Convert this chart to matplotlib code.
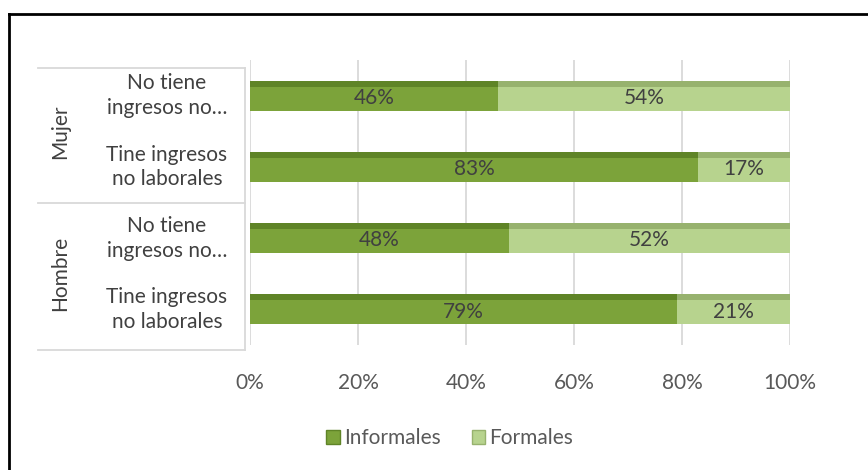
import matplotlib.pyplot as plt
import matplotlib.transforms as mtransforms
from matplotlib.patches import Patch
from matplotlib.lines import Line2D

plt.rcParams['font.family'] = ['Lato', 'DejaVu Sans']

# --- Data (bottom to top) ---
categories = ['Tine ingresos\nno laborales', 'No tiene\ningresos no…',
              'Tine ingresos\nno laborales', 'No tiene\ningresos no…']
groups = ['Hombre', 'Mujer']
informales = [0.79, 0.48, 0.83, 0.46]
formales = [0.21, 0.52, 0.17, 0.54]
x_ticks = [0, 0.2, 0.4, 0.6, 0.8, 1.0]
x_tick_labels = ['0%', '20%', '40%', '60%', '80%', '100%']
series_names = ['Informales', 'Formales']

dark = '#7CA33A'
light = '#B7D38E'
dark_top = '#5F8427'
light_top = '#97B26E'
text_col = '#404040'
fs = 15

fig = plt.figure(figsize=(8.68, 4.70), dpi=100)
ax = fig.add_axes([0.288, 0.266, 0.622, 0.606])

ypos = list(range(len(categories)))
bar_h = 0.42

ax.barh(ypos, informales, height=bar_h, color=dark, edgecolor='none', zorder=3)
ax.barh(ypos, formales, left=informales, height=bar_h, color=light,
        edgecolor='none', zorder=3)
# darker strip on top to hint the 3D top face
top_y = [y + bar_h / 2 - 0.04 for y in ypos]
ax.barh(top_y, informales, height=0.08, color=dark_top, edgecolor='none', zorder=4)
ax.barh(top_y, formales, left=informales, height=0.08, color=light_top,
        edgecolor='none', zorder=4)

# value labels
for y, a, b in zip(ypos, informales, formales):
    ax.text(a / 2, y - 0.03, f'{a:.0%}', ha='center', va='center',
            fontsize=fs, color=text_col, zorder=5)
    ax.text(a + b / 2, y - 0.03, f'{b:.0%}', ha='center', va='center',
            fontsize=fs, color=text_col, zorder=5)

ax.set_xlim(0, 1.0)
ax.set_ylim(-0.5, 3.5)
ax.set_xticks(x_ticks)
ax.set_xticklabels(x_tick_labels, fontsize=fs, color='#595959')
ax.set_yticks([])
ax.tick_params(axis='x', length=0, pad=20)
ax.grid(axis='x', color='#D9D9D9', linewidth=1.3, zorder=0)
for s in ax.spines.values():
    s.set_visible(False)

# category labels and group box
trans = mtransforms.blended_transform_factory(ax.transAxes, ax.transData)
for y, lab in zip(ypos, categories):
    ax.text(-0.154, y, lab, transform=trans, ha='center', va='center',
            fontsize=fs, color=text_col, linespacing=1.3)
ax.text(-0.352, 0.5, groups[0], transform=trans, ha='center', va='center',
        rotation=90, fontsize=fs, color=text_col)
ax.text(-0.352, 2.5, groups[1], transform=trans, ha='center', va='center',
        rotation=90, fontsize=fs, color=text_col)
box_col = '#D9D9D9'
for yl in [3.39, 1.5, -0.57]:
    ax.plot([-0.393, -0.009], [yl, yl], transform=trans, color=box_col,
            linewidth=1.3, clip_on=False)
ax.plot([-0.009, -0.009], [-0.57, 3.39], transform=trans, color=box_col,
        linewidth=1.3, clip_on=False)

# legend
handles = [Patch(facecolor=dark, edgecolor=dark_top),
           Patch(facecolor=light, edgecolor=light_top)]
fig.legend(handles, series_names, loc='center', bbox_to_anchor=(0.518, 0.068),
           ncol=2, frameon=False, fontsize=fs, handlelength=0.65,
           handleheight=0.65, handletextpad=0.2, columnspacing=1.5,
           labelcolor='#595959')

# outer frame (only top and left visible)
fig.add_artist(Line2D([0.0104, 0.0104], [0, 0.970], transform=fig.transFigure,
                      color='black', linewidth=2))
fig.add_artist(Line2D([0.0104, 1.0], [0.970, 0.970], transform=fig.transFigure,
                      color='black', linewidth=2))

fig.savefig('out.png', dpi=100)
